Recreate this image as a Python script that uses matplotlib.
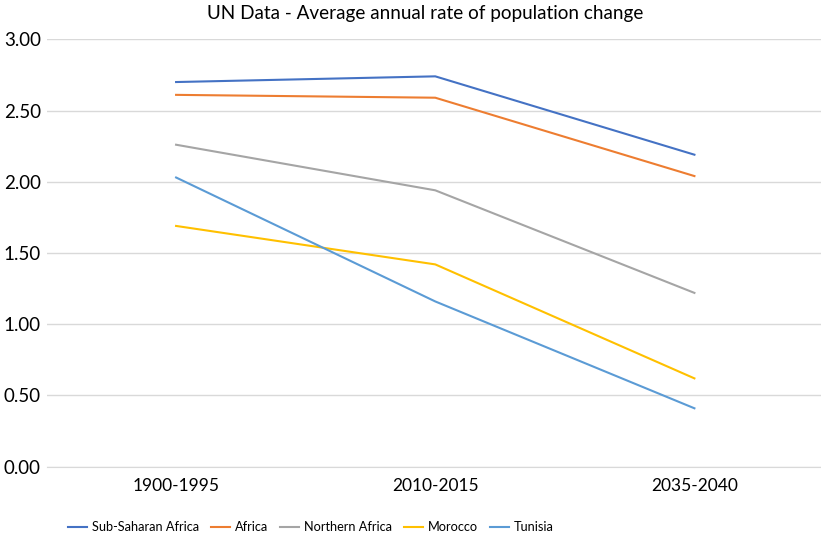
import matplotlib
matplotlib.use("Agg")
import matplotlib.pyplot as plt

# UN data, average annual rate of population change (%)
periods = ["1900-1995", "2010-2015", "2035-2040"]
sub_saharan = [2.70, 2.74, 2.19]
africa = [2.61, 2.59, 2.04]
northern_africa = [2.26, 1.94, 1.22]
morocco = [1.69, 1.42, 0.62]
tunisia = [2.03, 1.16, 0.41]

series = [
    ("Sub-Saharan Africa", sub_saharan, "#4472C4"),
    ("Africa", africa, "#ED7D31"),
    ("Northern Africa", northern_africa, "#A5A5A5"),
    ("Morocco", morocco, "#FFC000"),
    ("Tunisia", tunisia, "#5B9BD5"),
]

plt.rcParams["font.family"] = ["Lato", "DejaVu Sans"]

fig = plt.figure(figsize=(8.21, 5.39), dpi=100)
ax = fig.add_axes([46.5 / 821, 1 - 466.7 / 539, (824 - 46.5) / 821, (466.7 - 39.3) / 539])

x = list(range(len(periods)))
for name, vals, col in series:
    ax.plot(x, vals, color=col, lw=1.5, label=name, solid_joinstyle="round")

ax.set_xlim(-0.5, len(periods) - 0.5)
ax.set_ylim(0, 3)
ax.set_yticks([0, 0.5, 1, 1.5, 2, 2.5, 3])
ax.set_yticklabels([f"{v:.2f}" for v in ax.get_yticks()])
ax.set_xticks(x)
ax.set_xticklabels(periods)
ax.tick_params(axis="both", length=0, labelsize=12.5, colors="#000000")
ax.tick_params(axis="y", labelsize=13.5, pad=4)
ax.tick_params(axis="x", pad=8)
ax.grid(axis="y", color="#D9D9D9", lw=1)
ax.set_axisbelow(True)
for s in ["top", "right", "left"]:
    ax.spines[s].set_visible(False)
ax.spines["bottom"].set_color("#D9D9D9")

fig.text(425 / 821, 1 - 14 / 539, "UN Data - Average annual rate of population change",
         ha="center", va="center", fontsize=13.6)

fig.legend(loc="center", bbox_to_anchor=(311 / 821, 1 - 527 / 539), ncol=5,
           frameon=False, handlelength=1.45, handletextpad=0.4, columnspacing=0.95,
           fontsize=9.2)

fig.savefig("out.png", dpi=100)
